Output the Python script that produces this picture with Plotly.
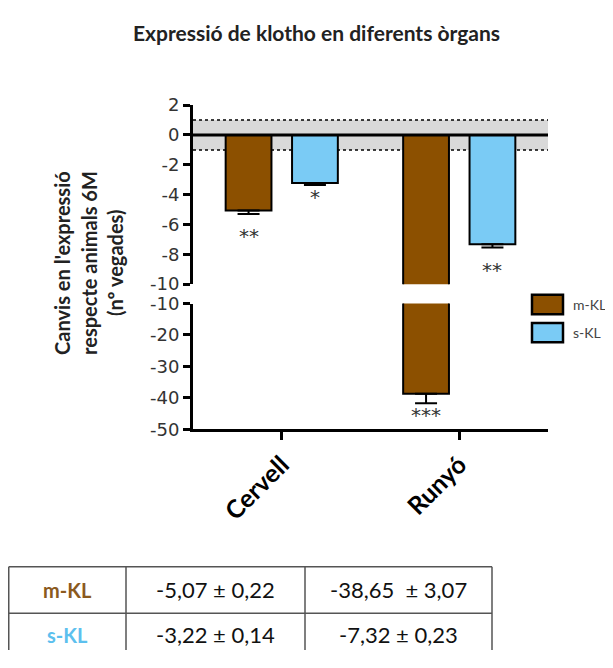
import plotly.graph_objects as go

# ---------------- data ----------------
categories = ["Cervell", "Runyó"]
mkl_values = [-5.07, -38.65]
mkl_err = [0.22, 3.07]
skl_values = [-3.22, -7.32]
skl_err = [0.14, 0.23]
mkl_stars = ["**", "***"]
skl_stars = ["*", "**"]
top_ticks = [2, 0, -2, -4, -6, -8, -10]
bottom_ticks = [-10, -20, -30, -40, -50]
table_row_labels = ["m-KL", "s-KL"]
table_mkl = ["-5,07 ± 0,22", "-38,65  ± 3,07"]
table_skl = ["-3,22 ± 0,14", "-7,32 ± 0,23"]

# ---------------- style / geometry ----------------
# the page body has an 8px margin; the figure is sized so that it fills the window exactly
OFF = 8
W, H = 613 - 2 * OFF, 668 - 2 * OFF
BROWN = "#8c5000"
BLUE = "#7acbf5"
X0, X1 = 193, 548
TOP_Y0, TOP_Y1 = 97, 282
BOT_Y0, BOT_Y1 = 302, 432
BAR_W = 0.258
M_OFF = -0.316
S_OFF = 0.058


def px_x(p):
    return (p - OFF) / W


def px_y(p):
    return 1 - (p - OFF) / H


fig = go.Figure()

for yax in ["y", "y2"]:
    fig.add_trace(go.Bar(
        x=categories, y=mkl_values, xaxis="x", yaxis=yax,
        offset=M_OFF, width=BAR_W, name="m-KL", showlegend=False,
        marker=dict(color=BROWN, line=dict(color="black", width=2)),
        error_y=dict(type="data", symmetric=False, array=[0, 0],
                     arrayminus=mkl_err, color="black", thickness=2, width=11),
    ))
    fig.add_trace(go.Bar(
        x=categories, y=skl_values, xaxis="x", yaxis=yax,
        offset=S_OFF, width=BAR_W, name="s-KL", showlegend=False,
        marker=dict(color=BLUE, line=dict(color="black", width=2)),
        error_y=dict(type="data", symmetric=False, array=[0, 0],
                     arrayminus=skl_err, color="black", thickness=2, width=11),
    ))

axis_common = dict(
    showline=True, linewidth=3, linecolor="black",
    ticks="outside", ticklen=7, tickwidth=2.5, tickcolor="black",
    showgrid=False, zeroline=False, fixedrange=True,
    tickfont=dict(family="DejaVu Sans", size=18, color="#333333"),
)

fig.update_layout(
    width=W, height=H,
    margin=dict(l=0, r=0, t=0, b=0),
    paper_bgcolor="white", plot_bgcolor="rgba(0,0,0,0)",
    barmode="overlay",
    xaxis=dict(
        domain=[px_x(X0), px_x(X1)], range=[-0.5, 1.5], anchor="y2",
        showline=True, linewidth=3, linecolor="black",
        ticks="outside", ticklen=8, tickwidth=2.5, tickcolor="black",
        tickangle=-45, showgrid=False, zeroline=False, fixedrange=True,
        tickfont=dict(family="Lato", size=25, color="black", weight="bold"),
    ),
    yaxis=dict(
        domain=[px_y(TOP_Y1), px_y(TOP_Y0)], range=[-10, 2], anchor="x",
        tickvals=top_ticks, ticktext=[str(v) for v in top_ticks],
        **axis_common,
    ),
    yaxis2=dict(
        domain=[px_y(BOT_Y1), px_y(BOT_Y0)], range=[-50, -10], anchor="x",
        tickvals=bottom_ticks, ticktext=[str(v) for v in bottom_ticks],
        **axis_common,
    ),
)

# grey band +-1 and reference lines
fig.add_shape(type="rect", xref="x domain", yref="y", x0=0, x1=1, y0=-1, y1=1,
              fillcolor="#d9d9d9", line=dict(width=0), layer="below")
for yv in [1, -1]:
    fig.add_shape(type="line", xref="x domain", yref="y", x0=0, x1=1, y0=yv, y1=yv,
                  line=dict(color="black", width=1.5, dash="dot"), layer="below")
fig.add_shape(type="line", xref="x domain", yref="y", x0=0, x1=1, y0=0, y1=0,
              line=dict(color="black", width=3), layer="above")

# significance stars below the error bars
for i, cat in enumerate(categories):
    for val, err, star, off in [(mkl_values[i], mkl_err[i], mkl_stars[i], M_OFF),
                                (skl_values[i], skl_err[i], skl_stars[i], S_OFF)]:
        yref = "y" if val > -10 else "y2"
        gap = 22 if len(star) == 2 else 12
        fig.add_annotation(x=i + off + BAR_W / 2, y=val - err, xref="x", yref=yref,
                           text=star, showarrow=False, yanchor="middle", yshift=-gap,
                           font=dict(family="DejaVu Sans", size=20, color="#333333"))

# title
fig.add_annotation(x=px_x(316), y=px_y(22), xref="paper", yref="paper",
                   text="<b>Expressió de klotho en diferents òrgans</b>",
                   showarrow=False, xanchor="center", yanchor="middle",
                   font=dict(family="Lato", size=21, color="#222222"))

# y-axis title (three lines)
ytitle_lines = ["Canvis en l'expressió", "respecte animals 6M", "(nº vegades)"]
for xp, line in zip([62, 89, 115], ytitle_lines):
    fig.add_annotation(x=px_x(xp), y=px_y(260), xref="paper", yref="paper",
                       text="<b>" + line + "</b>", textangle=-90, showarrow=False,
                       xanchor="center", yanchor="middle",
                       font=dict(family="Lato", size=20, color="#222222"))

# legend
for (y0, y1), col, lab in [((293, 313), BROWN, "m-KL"), ((322, 342), BLUE, "s-KL")]:
    fig.add_shape(type="rect", xref="paper", yref="paper",
                  x0=px_x(532), x1=px_x(563), y0=px_y(y1), y1=px_y(y0),
                  fillcolor=col, line=dict(color="black", width=2.5))
    fig.add_annotation(x=px_x(571), y=px_y((y0 + y1) / 2), xref="paper", yref="paper",
                       text=lab, showarrow=False, xanchor="left", yanchor="middle",
                       font=dict(family="Lato", size=14, color="#444444"))

# summary table (mean ± SEM) under the chart
col_edges = [8.75, 126, 305, 492]
row_edges = [574, 622, 668]
row_colors = ["#8b5a1e", "#5cc0ee"]
grid = dict(color="#555555", width=1.5)
for ye in row_edges[:-1]:
    fig.add_shape(type="line", xref="paper", yref="paper",
                  x0=px_x(col_edges[0]), x1=px_x(col_edges[-1]),
                  y0=px_y(ye), y1=px_y(ye), line=grid)
for xe in col_edges:
    fig.add_shape(type="line", xref="paper", yref="paper",
                  x0=px_x(xe), x1=px_x(xe), y0=px_y(row_edges[0]), y1=0, line=grid)
row_values = [table_mkl, table_skl]
row_centers = [598, 644]
for r in range(2):
    fig.add_annotation(x=px_x((col_edges[0] + col_edges[1]) / 2), y=px_y(row_centers[r]),
                       xref="paper", yref="paper", text="<b>" + table_row_labels[r] + "</b>",
                       showarrow=False, xanchor="center", yanchor="middle",
                       font=dict(family="Lato", size=20, color=row_colors[r]))
    for c in range(2):
        fig.add_annotation(x=px_x((col_edges[c + 1] + col_edges[c + 2]) / 2),
                           y=px_y(row_centers[r]), xref="paper", yref="paper",
                           text=row_values[r][c], showarrow=False,
                           xanchor="center", yanchor="middle",
                           font=dict(family="Lato", size=22, color="#111111"))

fig.write_html("out.html")
